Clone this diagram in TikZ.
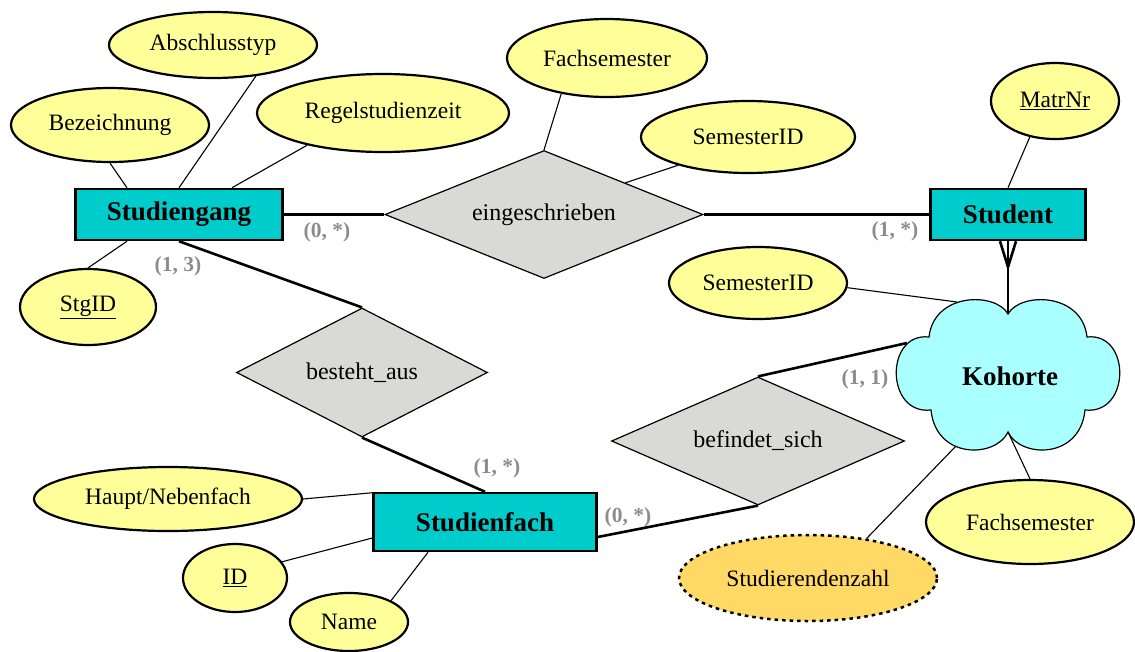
\documentclass[tikz,border=0pt]{standalone}
\usepackage{fontspec}
\setmainfont{Liberation Serif}
\usetikzlibrary{shapes.geometric,calc}

\definecolor{entityfill}{HTML}{00CCCC}
\definecolor{attrfill}{HTML}{FFFF99}
\definecolor{derivedfill}{HTML}{FFD966}
\definecolor{relfill}{HTML}{D9DAD6}
\definecolor{cloudfill}{HTML}{AAFFFF}
\definecolor{cardgray}{HTML}{8C8C8C}

\tikzset{
  entity/.style={rectangle, draw, line width=2.5pt, fill=entityfill, inner sep=0pt,
    font=\fontsize{27}{30}\selectfont\bfseries},
  attr/.style={ellipse, draw, line width=2.2pt, fill=attrfill, inner sep=0pt,
    font=\fontsize{23.5}{28}\selectfont},
  derived/.style={attr, fill=derivedfill, line width=2.5pt, dash pattern=on 3.5pt off 4pt},
  rel/.style={diamond, draw, line width=1.2pt, fill=relfill, inner sep=0pt, aspect=2.5,
    font=\fontsize{24}{28}\selectfont},
  card/.style={font=\fontsize{21.5}{24}\selectfont\bfseries, text=cardgray, inner sep=0pt},
  attrline/.style={line width=1.1pt},
  relline/.style={line width=2.6pt},
}

\begin{document}
\begin{tikzpicture}[x=1pt,y=-1pt]
\useasboundingbox (0,0) rectangle (1135,651);

% entities
\node[entity, minimum width=207, minimum height=51] (sg) at (179,214.5) {Studiengang};
\node[entity, minimum width=155, minimum height=51] (st) at (1008,214.5) {Student};
\node[entity, minimum width=223, minimum height=58] (sf) at (485,522) {Studienfach};

% relationships
\node[rel, minimum width=318, minimum height=128] (ein) at (544,214.5) {eingeschrieben};
\node[rel, minimum width=251, minimum height=129] (ba) at (362,372.5) {besteht\_aus};
\node[rel, minimum width=293, minimum height=128] (bs) at (758,441) {befindet\_sich};

% cohort cloud
\coordinate (k-top) at (1008,314);
\coordinate (k-bot) at (1008,432);
\coordinate (k-left) at (907,343);
\coordinate (k-sem) at (957,302);
\coordinate (k-zahl) at (956,446);
\draw[line width=1.2pt, fill=cloudfill]
  (k-top) .. controls (1020,292) and (1082,292) .. (1087,337)
  .. controls (1131,332) and (1131,415) .. (1085,410)
  .. controls (1080,460) and (1020,458) .. (k-bot)
  .. controls (996,458) and (936,460) .. (931,410)
  .. controls (885,415) and (885,332) .. (929,337)
  .. controls (934,292) and (996,292) .. (k-top) -- cycle;
\node[font=\fontsize{27}{30}\selectfont\bfseries] (koh) at (1010,376) {Kohorte};

% attributes
\node[attr, minimum width=208, minimum height=66] (abs) at (213,45) {Abschlusstyp};
\node[attr, minimum width=198, minimum height=74] (bez) at (110,125) {Bezeichnung};
\node[attr, minimum width=252, minimum height=78] (reg) at (383,113) {Regelstudienzeit};
\node[attr, minimum width=136, minimum height=76] (stgid) at (88,307) {\underline{StgID}};
\node[attr, minimum width=200, minimum height=78] (fs1) at (607,58) {Fachsemester};
\node[attr, minimum width=214, minimum height=72] (sem1) at (748,137) {SemesterID};
\node[attr, minimum width=128, minimum height=76] (matr) at (1055,101) {\underline{MatrNr}};
\node[attr, minimum width=178, minimum height=72] (sem2) at (758,283) {SemesterID};
\node[attr, minimum width=208, minimum height=84] (fs2) at (1030,522) {Fachsemester};
\node[derived, minimum width=258, minimum height=86] (zahl) at (808,578) {Studierendenzahl};
\node[attr, minimum width=268, minimum height=64] (hn) at (168,499) {Haupt/Nebenfach};
\node[attr, minimum width=104, minimum height=68] (id) at (235,578) {\underline{ID}};
\node[attr, minimum width=118, minimum height=58] (name) at (349,622) {Name};

% relationship connectors
\draw[relline] (sg.east) -- (ein.west);
\draw[relline] (ein.east) -- (st.west);
\draw[relline] (sg.south) -- (ba.north);
\draw[relline] (ba.south) -- (sf.north);
\draw[relline] ([yshift=-15pt]sf.east) -- (bs.south);
\draw[relline] (bs.north) -- (k-left);
\draw[relline] (st.south) -- (k-top);
\coordinate (cf) at (1008,267);
\draw[relline] ([xshift=-8pt]st.south) -- (cf) -- ([xshift=8pt]st.south);

% attribute connectors
\draw[attrline] (bez.south) -- ([xshift=-52pt]sg.north);
\draw[attrline] (abs.-36) -- (sg.north);
\draw[attrline] (reg.203) -- ([xshift=53pt]sg.north);
\draw[attrline] (stgid.north) -- ([xshift=-52pt]sg.south);
\draw[attrline] (fs1.218) -- (ein.north);
\draw[attrline] (sem1.202) -- ($(ein.north)!0.51!(ein.east)$);
\draw[attrline] (matr.235) -- (st.north);
\draw[attrline] (sem2.-3) -- (k-sem);
\draw[attrline] (fs2.north) -- (k-bot);
\draw[attrline] (zahl.34) -- (k-zahl);
\draw[attrline] (hn.east) -- ([yshift=-1pt]sf.north west);
\draw[attrline] (id.19) -- ([yshift=-16pt]sf.west);
\draw[attrline] (name.27) -- ([xshift=-57pt]sf.south);

% cardinalities
\node[card] (c1) at (327,232) {(0, *)};
\node[card] (c2) at (895,231) {(1, *)};
\node[card] (c3) at (178,266) {(1, 3)};
\node[card] (c4) at (497,468) {(1, *)};
\node[card] (c5) at (628,517) {(0, *)};
\node[card] (c6) at (865,379) {(1, 1)};
\end{tikzpicture}
\end{document}
